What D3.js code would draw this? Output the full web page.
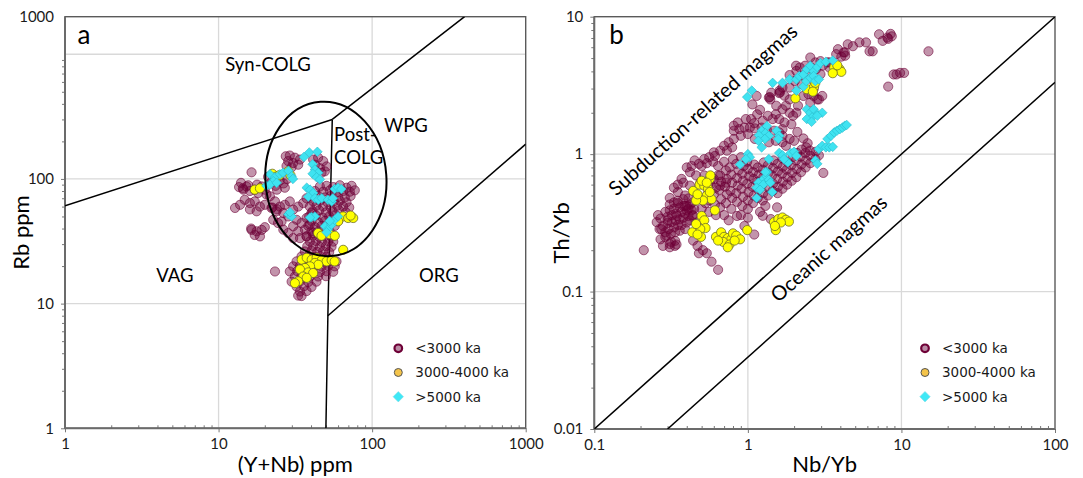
<!DOCTYPE html>
<html>
<head>
<meta charset="utf-8">
<script src="https://cdn.jsdelivr.net/npm/d3@7"></script>
<style>
  html, body { margin: 0; padding: 0; background: #fff; }
  svg { display: block; }
</style>
</head>
<body>
<svg id="chart" width="1083" height="478"></svg>
<script>
// ---------------- Series and axis values ----------------
const seriesNames = ["<3000 ka", "3000-4000 ka", ">5000 ka"];

// Panel a: Rb vs (Y+Nb), ppm
const yNbDomain = [1, 1000];
const rbDomain = [1, 2000];
const yNbTickValues = [1, 10, 100, 1000];
const yNbTickLabels = ["1", "10", "100", "1000"];
const rbTickValues = [1, 10, 100, 2000];
const rbTickLabels = ["1", "10", "100", "1000"];
const yNbGrid = [10, 100];
const rbGrid = [10, 100, 1000];

// Panel b: Th/Yb vs Nb/Yb
const nbYbDomain = [0.1, 100];
const thYbDomain = [0.01, 10];
const nbYbTickValues = [0.1, 1, 10, 100];
const nbYbTickLabels = ["0.1", "1", "10", "100"];
const thYbTickValues = [0.01, 0.1, 1, 10];
const thYbTickLabels = ["0.01", "0.1", "1", "10"];
const nbYbGrid = [1, 10];
const thYbGrid = [0.1, 1];

// Discrimination boundaries, panel a (Y+Nb, Rb)
const graniteBoundaries = [
  [[1, 61], [55, 300]],
  [[55, 300], [400, 2000]],
  [[55, 300], [51.5, 8], [50, 1]],
  [[51.5, 8], [1000, 190]]
];
// Field names, panel a: [label, Y+Nb, Rb, anchor]
const graniteFields = [
  ["Syn-COLG", 21, 740, "middle"],
  ["WPG", 166, 240, "middle"],
  ["Post-", 56.5, 200, "start"],
  ["COLG", 56.5, 131, "start"],
  ["VAG", 5.2, 15, "middle"],
  ["ORG", 272, 15, "middle"]
];
// Post-COLG envelope: centre (Y+Nb, Rb) and half-widths in log10 units
const postColgCentre = [50, 100];
const postColgHalfDecades = [0.394, 0.62];
const postColgTilt = -4;

// MORB-OIB array, panel b (Nb/Yb, Th/Yb)
const arrayBoundaries = [
  [[0.1, 0.01], [100, 10]],
  [[0.3, 0.01], [100, 3.33]]
];
// Array labels, panel b: [label, Nb/Yb, Th/Yb]
const arrayLabels = [
  ["Subduction-related magmas", 0.51, 2.1],
  ["Oceanic magmas", 3.37, 0.205]
];

// ---- Panel a samples: [Y+Nb, Rb] ----
const rbYoung = [
  [27.4,152],[29.1,154],[31.4,148],[33.9,143],[28.4,139],[30.6,134],[33,130],[29.9,124],[27.7,127],
  [41.3,143],[44.5,148],[48,139],[50.5,126],[42.4,130],[45.7,122],[43.4,115],[49.2,115],[46.8,112],
  [16.4,113],[13.6,86],[14.5,82],[15.2,87],[16,80],[17.2,82],[18.1,77],[19.1,87],[20,82],[20.5,75],
  [14.0,93],[15.6,89],[17.8,90],[14.4,84],
  [12.8,58.5],[13.8,62],[14.8,68],[16,64],[17.2,66],[18.6,60],[20,62],[16,57],[17.7,55],[22.4,59],[24,57],
  [16.4,39],[17.7,38],[19.1,39],[17.2,35.5],[18.6,34.6],[16.3,40],[20,41],
  [21,104],[22,94],[23.5,88],[25,97],[26.5,92],[24,82],[27,85],[28,100],
  [21.6,72.6],[23.3,66],[25.1,60],[27,62],[29.1,66],[22.1,58.5],[23.8,55],[26.4,53.3],[28.4,50],
  [30.6,56.7],[33,60],[35.6,64],[37.4,70],[32.2,47],[34.7,44.3],[37.4,48.6],[40.3,53.3],[30.6,41.7],
  [33,38],[36.5,39.2],[39.3,43],[26.4,39.2],[28.4,36.8],[30.6,33.5],[33.9,33.5],[37.4,34.6],[41.3,36.8],
  [24.4,44.3],[22.7,47],[25.7,45.5],
  [45.7,87],[50.5,88],[55.8,86],[61.6,89],[68.1,85],[73.5,88],
  [42.4,80],[48,79],[53,81],[58.6,78],[64.8,80],[71.6,79],[77.1,81],
  [40.3,72],[44.5,73],[49.2,71],[54.4,74],[60.1,72],[66.4,71],[72.4,73],
  [41.3,66],[45.7,67],[51,65],[56.3,66],[61.6,67],[68.1,65],
  [39.3,60],[43.4,61],[48,60],[53.6,59],[59.2,61],[64.8,60],[70.9,59],
  [40.9,55],[45.2,56],[50,54],[55.2,55],[61,56],[67.4,54],
  [38.9,50],[43,51],[47.5,49],[52.5,50],[58,51],
  [40.3,46],[44.5,45],[49.2,46],[54.4,45],[60.1,46],
  [38.4,42],[42.4,41],[46.8,42],[51.7,41],[57.1,42],
  [40.3,38],[43.9,37.5],[48,38.5],[53,37.8],
  [37.4,34.6],[41.3,35],[45.2,34.2],[49.5,34.8],[54.4,34.3],
  [39.3,31.5],[43,31.8],[47,31.2],[51.7,31.6],[55.8,31.4],
  [37.8,28.8],[41.3,29],[45.7,28.5],[50,28.9],[54.4,28.6],
  [36.5,26.2],[40.3,26.5],[43.9,26],[48,26.3],[52.5,25.9],
  [34.7,23.9],[38.4,24.1],[42.4,23.7],[46.1,24],[50.5,23.8],
  [32.2,21.8],[35.6,22],[39.3,21.6],[43.4,21.9],[48,21.7],[53,22],[58.6,21.8],
  [30.6,19.9],[33.9,20.1],[37.8,19.7],[42.4,20],[46.8,19.8],[51.7,20],[57.1,19.9],
  [29.1,18.1],[32.5,18.2],[36.5,18],[40.9,18.1],[45.7,17.9],[50.5,18.2],[55.8,18],
  [31.4,16.5],[34.7,16.6],[39.3,16.4],[44.5,16.5],[50,16.6],
  [29.9,15],[33.9,15.1],[38.4,14.9],[43.4,15],
  [32.2,13.7],[36,13.8],[40.3,13.6],
  [33.9,12.5],[37.4,12.6],[33,11.6],[34.7,11.5],
  [23.3,18.1]
];
const rbMid = [
  [22.4,110],[23.6,104],[24.8,107],[28.4,115],[29.4,107],[17.2,82],[18.6,84],
  [64.8,50],[69.8,48.6],[75.3,48.6],[60.1,45.7],[72.4,50.8],
  [44.5,36.8],[46.8,35],[53,36],[57.1,35],[64.8,27],
  [34.8,22.5],[37.5,23.3],[40.4,22.5],[43.5,23.3],[47,22.3],[50.5,21.8],[54.5,22.3],[57,21.8],
  [42.4,21.2],[44.6,20.5],[39.4,19.9],[36.5,19.3],[33.9,18.8],[38.4,17.8],[41.3,17.6],
  [35.6,16.5],[33,15.1],[31.4,14.6],[37.5,16.1]
];
const rbOld = [
  [36,150],[39,163],[44,165],
  [41,131],[42.4,119],[44.6,112],[41,110],[43.5,103],[45.7,99],
  [21.6,109],[23.3,103],[25.1,109],[26.3,112],[28.5,116],[29.9,105],[30.5,100],[22.7,96],[20.5,88],[21.6,90],[23.9,93],
  [28.5,52],[29.9,50],[29.2,54],
  [37.5,85],[39.4,82],[41.3,77],[38.4,72],[42.4,70],[44.6,68],[47,70],[51.5,68],[54.5,66],[57,83],[60,85],[63,83],[55.5,70],
  [40.4,49.5],[42.4,50],
  [49.3,41.7],[51.5,39.3],[54.5,43],[50.5,37.3],[57,47],[60,50],[53,46],[39.4,49]
];

// ---- Panel b samples: [Nb/Yb, Th/Yb] ----
const thYoung = [
  // low Nb/Yb cluster
  [0.27,0.34],[0.29,0.38],[0.30,0.35],[0.31,0.39],[0.32,0.36],[0.33,0.40],[0.34,0.37],[0.36,0.41],[0.37,0.38],[0.39,0.42],[0.40,0.39],[0.42,0.43],
  [0.28,0.30],[0.30,0.315],[0.32,0.32],[0.34,0.33],[0.36,0.335],[0.38,0.345],[0.41,0.355],
  [0.29,0.27],[0.305,0.285],[0.33,0.293],[0.35,0.305],[0.37,0.305],[0.40,0.318],[0.42,0.33],
  [0.27,0.24],[0.29,0.25],[0.315,0.262],[0.336,0.27],[0.36,0.277],[0.39,0.285],
  [0.28,0.215],[0.31,0.222],[0.336,0.234],[0.266,0.285],[0.255,0.32],[0.26,0.36],
  [0.33,0.445],[0.35,0.458],[0.38,0.47],[0.41,0.476],[0.435,0.445],[0.447,0.40],[0.435,0.356],[0.46,0.318],
  [0.31,0.43],[0.35,0.44],[0.38,0.42],[0.43,0.39],[0.44,0.36],[0.30,0.33],[0.345,0.355],[0.39,0.37],[0.41,0.40],
  [0.273,0.285],[0.295,0.255],[0.317,0.23],[0.343,0.22],[0.31,0.21],[0.335,0.215],
  [0.21,0.20],[0.64,0.144],[0.58,0.165],[0.47,0.215],[0.51,0.20],[0.54,0.19],[0.48,0.19],[0.44,0.235],[1.1,0.26],
  [0.40,0.80],[0.43,0.82],[0.50,0.82],[0.54,0.86],[0.595,0.88],[0.64,0.82],[0.42,0.74],[0.46,0.70],[0.52,0.70],[0.58,0.66],
  [0.64,0.70],[0.38,0.62],[0.42,0.59],[0.49,0.62],[0.55,0.59],[0.66,0.59],[0.72,0.62],[0.33,0.57],[0.35,0.53],[0.39,0.50],
  [0.31,0.48],[0.40,0.42],[0.56,0.95],[0.60,1.03],[0.37,0.66],[0.35,0.60],[0.45,0.90],[0.48,0.85],[0.52,0.92],
  [0.50,0.40],[0.53,0.44],[0.47,0.50],[0.56,0.38],[0.62,0.36],[0.70,0.36],[0.75,0.33],[0.85,0.355],[0.90,0.36],[1.0,0.40],
  [0.95,0.30],[1.2,0.38],[1.3,0.42],[1.55,0.41],[1.25,0.356],[1.41,0.337],[1.0,0.345],
  // main band
  [0.56,0.46],[0.55,0.52],[0.57,0.60],
  [0.61,0.43],[0.60,0.51],[0.62,0.57],[0.60,0.66],
  [0.66,0.41],[0.67,0.47],[0.65,0.55],[0.67,0.63],[0.66,0.70],
  [0.72,0.44],[0.73,0.51],[0.71,0.58],[0.73,0.66],[0.72,0.76],
  [0.78,0.40],[0.79,0.48],[0.77,0.54],[0.79,0.62],[0.78,0.71],
  [0.85,0.45],[0.84,0.52],[0.86,0.59],[0.85,0.67],[0.87,0.76],[0.84,0.85],
  [0.92,0.42],[0.93,0.49],[0.91,0.56],[0.93,0.64],[0.92,0.72],[0.94,0.82],
  [1.00,0.46],[1.01,0.53],[0.99,0.61],[1.02,0.69],[1.00,0.78],[0.99,0.88],
  [1.08,0.44],[1.09,0.50],[1.07,0.58],[1.09,0.66],[1.08,0.74],[1.10,0.84],
  [1.16,0.48],[1.17,0.55],[1.15,0.63],[1.18,0.71],[1.16,0.80],
  [1.25,0.46],[1.26,0.52],[1.24,0.60],[1.26,0.68],[1.25,0.77],[1.27,0.87],
  [1.35,0.50],[1.36,0.57],[1.34,0.65],[1.36,0.73],[1.35,0.83],
  [1.45,0.54],[1.46,0.61],[1.44,0.70],[1.46,0.79],[1.47,0.90],
  [1.56,0.52],[1.57,0.58],[1.55,0.66],[1.57,0.75],[1.56,0.85],
  [1.68,0.56],[1.69,0.63],[1.67,0.72],[1.69,0.81],[1.68,0.93],
  [1.80,0.60],[1.81,0.68],[1.79,0.77],[1.82,0.87],
  [1.93,0.64],[1.94,0.73],[1.92,0.83],[1.95,0.95],
  [2.07,0.68],[2.08,0.78],[2.06,0.90],[2.09,1.02],
  [2.22,0.74],[2.23,0.84],[2.21,0.96],[2.24,1.08],
  [2.38,0.80],[2.39,0.90],[2.37,1.02],[2.40,1.12],
  [2.55,0.86],[2.56,0.97],[2.54,1.06],
  [2.75,0.92],[2.76,1.04],[2.9,0.98],[3.1,0.73],
  [0.70,0.88],[0.80,0.92],[0.90,0.95],[0.76,0.80],
  // upper arm
  [0.81,1.48],[0.88,1.52],[0.95,1.56],[1.03,1.56],[1.11,1.54],[1.23,1.56],[1.33,1.5],[1.48,1.48],[1.6,1.44],[1.68,1.36],
  [0.9,1.36],[1.0,1.4],[0.81,1.29],[0.75,1.22],[0.7,1.15],[0.66,1.06],[0.61,0.97],[0.73,1.06],[0.79,1.12],[1.11,1.29],
  [1.37,1.22],[1.52,1.25],[1.68,1.22],[1.77,1.15],[1.87,1.29],[0.81,1.61],[0.86,1.7],[0.97,1.8],
  [2.1,1.45],[2.3,1.3],[2.0,1.25],[2.45,1.2],
  // rising branch
  [1.37,2.58],[1.4,2.5],[1.6,2.78],[1.62,2.82],[1.73,2.66],[1.87,2.5],[1.77,2.25],[1.68,2.12],[1.87,2.0],[1.52,1.95],
  [1.6,1.8],[1.73,1.7],[1.92,1.65],[1.68,1.52],[1.97,1.9],[2.07,2.0],[2.12,2.25],[2.3,2.65],[2.48,2.73],[2.68,2.65],
  [2.9,2.5],[3.05,2.65],[2.55,2.37],[2.24,3.23],[1.07,2.3],[1.14,2.65],[1.42,2.8],[1.61,2.9],[1.39,2.6],[1.53,2.25],
  [1.05,1.8],[1.15,1.95],[1.25,1.75],[1.35,1.9],[1.45,1.8],[1.2,2.1],[1.1,1.68],
  // high Th/Yb group
  [2.18,4.27],[2.36,4.4],[2.55,5.05],[2.75,4.65],[2.97,4.75],[3.3,4.65],[2.07,4.03],[2.3,3.7],[2.48,3.67],[2.68,3.4],
  [2.97,3.82],[3.39,4.27],[1.87,3.76],[2.02,3.4],[1.68,3.05],[1.87,3.05],[2.68,2.97],[2.83,2.5],
  [2.06,4.4],[2.59,4.27],[2.78,4.15],[3.07,4.4],[3.39,4.65],
  [3.76,5.34],[4.06,5.12],[4.28,5.5],[3.86,5.8],[4.3,5.2],[4.2,5.5],
  [4.47,6.3],[4.83,6.1],[5.33,6.5],[5.88,6.5],[6.2,5.6],[6.5,5.6],[7.55,6.67],[8.1,7.05],[7.15,7.45],
  [8.5,7.5],[8.65,7.2],[8.2,6.9],[15,5.6],
  [9.3,3.8],[9.8,3.9],[10.4,3.9],[8.9,3.8],[8.2,3.1]
];
const thMid = [
  [0.44,0.54],[0.485,0.60],[0.52,0.59],[0.55,0.56],[0.54,0.50],[0.58,0.47],[0.51,0.46],[0.46,0.46],[0.565,0.53],[0.61,0.39],
  [0.50,0.64],[0.565,0.66],[0.57,0.70],[0.47,0.51],[0.54,0.62],
  [0.50,0.355],[0.52,0.33],[0.53,0.29],[0.49,0.285],[0.435,0.27],[0.495,0.25],[0.46,0.31],[0.47,0.26],
  [0.62,0.25],[0.67,0.27],[0.70,0.25],[0.74,0.245],[0.78,0.24],[0.80,0.265],[0.84,0.255],[0.89,0.24],[0.69,0.23],[0.76,0.22],
  [0.74,0.21],[0.64,0.235],[0.99,0.28],[0.82,0.235],
  [1.48,0.32],[1.52,0.28],[1.58,0.337],[1.68,0.346],[1.77,0.333],[1.85,0.323],[1.64,0.318],[1.50,0.30],
  [2.04,2.55],[2.42,2.97],[2.7,3.1],[2.75,3.3],[2.65,2.85],
  [3.65,4.27],[3.96,4.15],[4.06,3.97],[3.57,3.88],[3.82,4.43]
];
const thOld = [
  [0.99,2.6],[1.06,2.9],[1.45,3.3],[1.68,3.3],
  [1.87,3.5],[2.07,3.5],[2.16,3.7],[2.3,3.8],[2.42,4.15],[2.55,4.4],[2.68,4.0],[2.83,4.3],[2.97,4.6],[3.22,4.7],[3.57,4.8],
  [2.07,2.9],[2.3,3.1],[2.4,3.4],[2.55,3.6],[2.68,3.7],[2.75,3.4],[2.9,3.5],
  [2.42,2.12],[2.55,2.0],[2.68,2.12],[2.83,1.95],[3.05,2.0],[2.62,1.85],[2.42,1.8],[2.6,1.72],[2.83,1.9],
  [1.33,1.6],[1.23,1.48],[1.3,1.42],[1.18,1.37],[1.37,1.36],[1.29,1.29],[1.23,1.12],[1.17,1.25],
  [1.54,1.48],[1.6,1.36],[1.58,1.29],
  [1.0,1.0],[1.03,0.95],[0.97,0.92],[0.89,0.84],
  [1.6,1.02],[1.68,0.98],[1.82,0.87],[1.72,0.92],
  [1.9,1.02],[2.0,1.04],[2.07,0.97],
  [2.75,0.9],[2.83,0.85],[1.37,0.92],
  [2.9,1.09],[3.05,1.15],[3.22,1.12],[3.39,1.12],[3.57,1.13],[3.3,1.29],[3.48,1.36],[3.65,1.44],[3.8,1.48],[3.97,1.52],
  [4.13,1.56],[4.28,1.61],[4.4,1.63],
  [1.33,0.74],[1.3,0.68],[1.23,0.64],[1.17,0.62],[1.14,0.57],[1.37,0.65],[1.26,0.6],[1.44,0.53],[1.14,0.48],[1.2,0.55],
  [1.4,0.62],[1.3,0.74]
];

// ---------------- Drawing ----------------
const svg = d3.select("#chart");
const FONT = "Lato, 'Noto Sans', sans-serif";
const LEGEND_FONT = "'DejaVu Sans', Verdana, sans-serif";
const MAROON = "#6e0036";

const diamond = r => `M0,${-r}L${r},0L0,${r}L${-r},0Z`;

function minorTicks(domain) {
  const out = [];
  const lo = Math.floor(Math.log10(domain[0]));
  const hi = Math.ceil(Math.log10(domain[1]));
  for (let e = lo; e < hi; e++) {
    for (let k = 2; k <= 9; k++) {
      const v = +(k * Math.pow(10, e)).toPrecision(3);
      if (v > domain[0] && v < domain[1]) out.push(v);
    }
  }
  return out;
}

function drawPanel(p) {
  const g = svg.append("g");
  const x = p.x, y = p.y;
  const [x0, x1] = x.range();
  const [y0, y1] = y.range(); // y0 bottom, y1 top

  // grid
  g.append("g").selectAll("line").data(p.xGrid).join("line")
    .attr("x1", d => x(d)).attr("x2", d => x(d))
    .attr("y1", y0).attr("y2", y1)
    .attr("stroke", "#d9d9d9").attr("stroke-width", 1.3);
  g.append("g").selectAll("line").data(p.yGrid).join("line")
    .attr("x1", x0).attr("x2", x1)
    .attr("y1", d => y(d)).attr("y2", d => y(d))
    .attr("stroke", "#d9d9d9").attr("stroke-width", 1.3);

  // axes: majors outward with labels, minors
  const xMaj = g.append("g").attr("transform", `translate(0,${y0})`)
    .call(d3.axisBottom(x).tickValues(p.xTicks).tickFormat((d, i) => p.xLabels[i])
      .tickSize(4).tickPadding(6));
  const xMin = g.append("g").attr("transform", `translate(0,${y0})`)
    .call(d3.axisBottom(x).tickValues(minorTicks(x.domain())).tickFormat("").tickSize(-3));
  const yMaj = g.append("g").attr("transform", `translate(${x0},0)`)
    .call(d3.axisLeft(y).tickValues(p.yTicks).tickFormat((d, i) => p.yLabels[i])
      .tickSize(4).tickPadding(7));
  const yMin = g.append("g").attr("transform", `translate(${x0},0)`)
    .call(d3.axisLeft(y).tickValues(minorTicks(p.yMinorDomain)).tickFormat("").tickSize(3));
  [xMaj, xMin, yMaj, yMin].forEach(a => {
    a.select(".domain").remove();
    a.selectAll(".tick line").attr("stroke", "#777").attr("stroke-width", 1);
    a.selectAll(".tick text").attr("font-family", FONT).attr("font-size", 15).attr("fill", "#1a1a1a");
  });
  yMaj.selectAll(".tick").filter(d => d === p.yTicks[p.yTicks.length - 1] && p.hideTopTick)
    .select("line").remove();

  // frame
  g.append("rect").attr("x", x0).attr("y", y1).attr("width", x1 - x0).attr("height", y0 - y1)
    .attr("fill", "none").attr("stroke", "#5a5a5a").attr("stroke-width", 1.4);
  g.append("line").attr("x1", x0).attr("x2", x0).attr("y1", y1).attr("y2", y0)
    .attr("stroke", "#6b6b6b").attr("stroke-width", 2);
  g.append("line").attr("x1", x0).attr("x2", x1).attr("y1", y0).attr("y2", y0)
    .attr("stroke", "#6b6b6b").attr("stroke-width", 2);

  // clip for data
  const clipId = "clip" + p.id;
  svg.append("clipPath").attr("id", clipId).append("rect")
    .attr("x", x0).attr("y", y1).attr("width", x1 - x0).attr("height", y0 - y1);
  const plot = g.append("g").attr("clip-path", `url(#${clipId})`);

  // boundaries
  const line = d3.line().x(d => x(d[0])).y(d => y(d[1]));
  plot.append("g").selectAll("path").data(p.boundaries).join("path")
    .attr("d", line).attr("fill", "none").attr("stroke", "#000").attr("stroke-width", 1.5);

  // samples
  plot.append("g").selectAll("circle").data(p.young).join("circle")
    .attr("cx", d => x(d[0])).attr("cy", d => y(d[1])).attr("r", 4.6)
    .attr("fill", MAROON).attr("fill-opacity", 0.42)
    .attr("stroke", MAROON).attr("stroke-opacity", 0.65).attr("stroke-width", 0.9);
  plot.append("g").selectAll("circle").data(p.mid).join("circle")
    .attr("cx", d => x(d[0])).attr("cy", d => y(d[1])).attr("r", 4.6)
    .attr("fill", "#ffff00").attr("stroke", "#6e6e2a").attr("stroke-width", 0.8);
  plot.append("g").selectAll("path").data(p.old).join("path")
    .attr("transform", d => `translate(${x(d[0])},${y(d[1])})`)
    .attr("d", diamond(4.8))
    .attr("fill", "#3fe3f1").attr("stroke", "#28b9c9").attr("stroke-width", 0.6);

  // panel letter
  g.append("text").attr("x", x0 + p.letterDx).attr("y", y1 + 27)
    .attr("font-family", FONT).attr("font-size", 26).attr("fill", "#000").text(p.letter);

  // axis titles
  g.append("text").attr("x", (x0 + x1) / 2 + p.xTitleDx).attr("y", 472)
    .attr("text-anchor", "middle").attr("font-family", FONT).attr("font-size", 22)
    .attr("fill", "#000").text(p.xTitle);
  g.append("text")
    .attr("transform", `translate(${x0 + p.yTitleDx},${(y0 + y1) / 2 + 10}) rotate(-90)`)
    .attr("text-anchor", "middle").attr("font-family", FONT).attr("font-size", 22)
    .attr("fill", "#000").text(p.yTitle);

  // legend
  const lg = g.append("g").attr("transform", `translate(${p.legendX},348.3)`);
  const rowGap = 24.2;
  lg.append("circle").attr("cx", 0).attr("cy", 0).attr("r", 3.8)
    .attr("fill", "#b98aa4").attr("stroke", MAROON).attr("stroke-width", 2.2);
  lg.append("circle").attr("cx", 0).attr("cy", rowGap).attr("r", 4)
    .attr("fill", "#f4c44a").attr("stroke", "#555").attr("stroke-width", 1);
  lg.append("path").attr("transform", `translate(0,${rowGap * 2})`).attr("d", diamond(5.2))
    .attr("fill", "#3fe8f6").attr("stroke", "#7fdbe6").attr("stroke-width", 0.6);
  lg.selectAll("text").data(seriesNames).join("text")
    .attr("x", 17).attr("y", (d, i) => i * rowGap + 5)
    .attr("font-family", LEGEND_FONT).attr("font-size", 13.5).attr("fill", "#1a1a1a")
    .text(d => d);

  return { g, plot };
}

// ---- Panel a ----
const xA = d3.scaleLog().domain(yNbDomain).range([65, 525.7]);
const yA = d3.scaleLog().domain(rbDomain).range([428.3, 16.7]);
const pa = drawPanel({
  id: "a", x: xA, y: yA,
  xGrid: yNbGrid, yGrid: rbGrid,
  xTicks: yNbTickValues, xLabels: yNbTickLabels,
  yTicks: rbTickValues, yLabels: rbTickLabels, yMinorDomain: [1, 1000], hideTopTick: true,
  boundaries: graniteBoundaries,
  young: rbYoung, mid: rbMid, old: rbOld,
  letter: "a", letterDx: 12.5,
  xTitle: "(Y+Nb) ppm", xTitleDx: 0, yTitle: "Rb ppm", yTitleDx: -36,
  legendX: 398.3
});
// field names
pa.g.append("g").selectAll("text").data(graniteFields).join("text")
  .attr("x", d => xA(d[1])).attr("y", d => yA(d[2]))
  .attr("text-anchor", d => d[3])
  .attr("font-family", FONT).attr("font-size", 18.5).attr("fill", "#000")
  .text(d => d[0]);
// Post-COLG envelope
{
  const cx = xA(postColgCentre[0]), cy = yA(postColgCentre[1]);
  const rx = xA(postColgCentre[0] * Math.pow(10, postColgHalfDecades[0])) - cx;
  const ry = cy - yA(postColgCentre[1] * Math.pow(10, postColgHalfDecades[1]));
  pa.g.append("ellipse")
    .attr("transform", `translate(${cx},${cy}) rotate(${postColgTilt})`)
    .attr("rx", rx).attr("ry", ry)
    .attr("fill", "none").attr("stroke", "#000").attr("stroke-width", 2);
}

// ---- Panel b ----
const xB = d3.scaleLog().domain(nbYbDomain).range([594.3, 1055]);
const yB = d3.scaleLog().domain(thYbDomain).range([429, 16.7]);
const pb = drawPanel({
  id: "b", x: xB, y: yB,
  xGrid: nbYbGrid, yGrid: thYbGrid,
  xTicks: nbYbTickValues, xLabels: nbYbTickLabels,
  yTicks: thYbTickValues, yLabels: thYbTickLabels, yMinorDomain: thYbDomain, hideTopTick: false,
  boundaries: arrayBoundaries,
  young: thYoung, mid: thMid, old: thOld,
  letter: "b", letterDx: 15,
  xTitle: "Nb/Yb", xTitleDx: 0, yTitle: "Th/Yb", yTitleDx: -25,
  legendX: 925
});
{
  const slopeAngle = -Math.atan2(yB(0.1) - yB(1), xB(10) - xB(1)) * 180 / Math.PI;
  pb.g.append("g").selectAll("text").data(arrayLabels).join("text")
    .attr("transform", d => `translate(${xB(d[1])},${yB(d[2])}) rotate(${slopeAngle})`)
    .attr("text-anchor", "middle").attr("dy", "0.35em")
    .attr("font-family", FONT).attr("font-size", 20).attr("fill", "#000")
    .text(d => d[0]);
}
</script>
</body>
</html>
